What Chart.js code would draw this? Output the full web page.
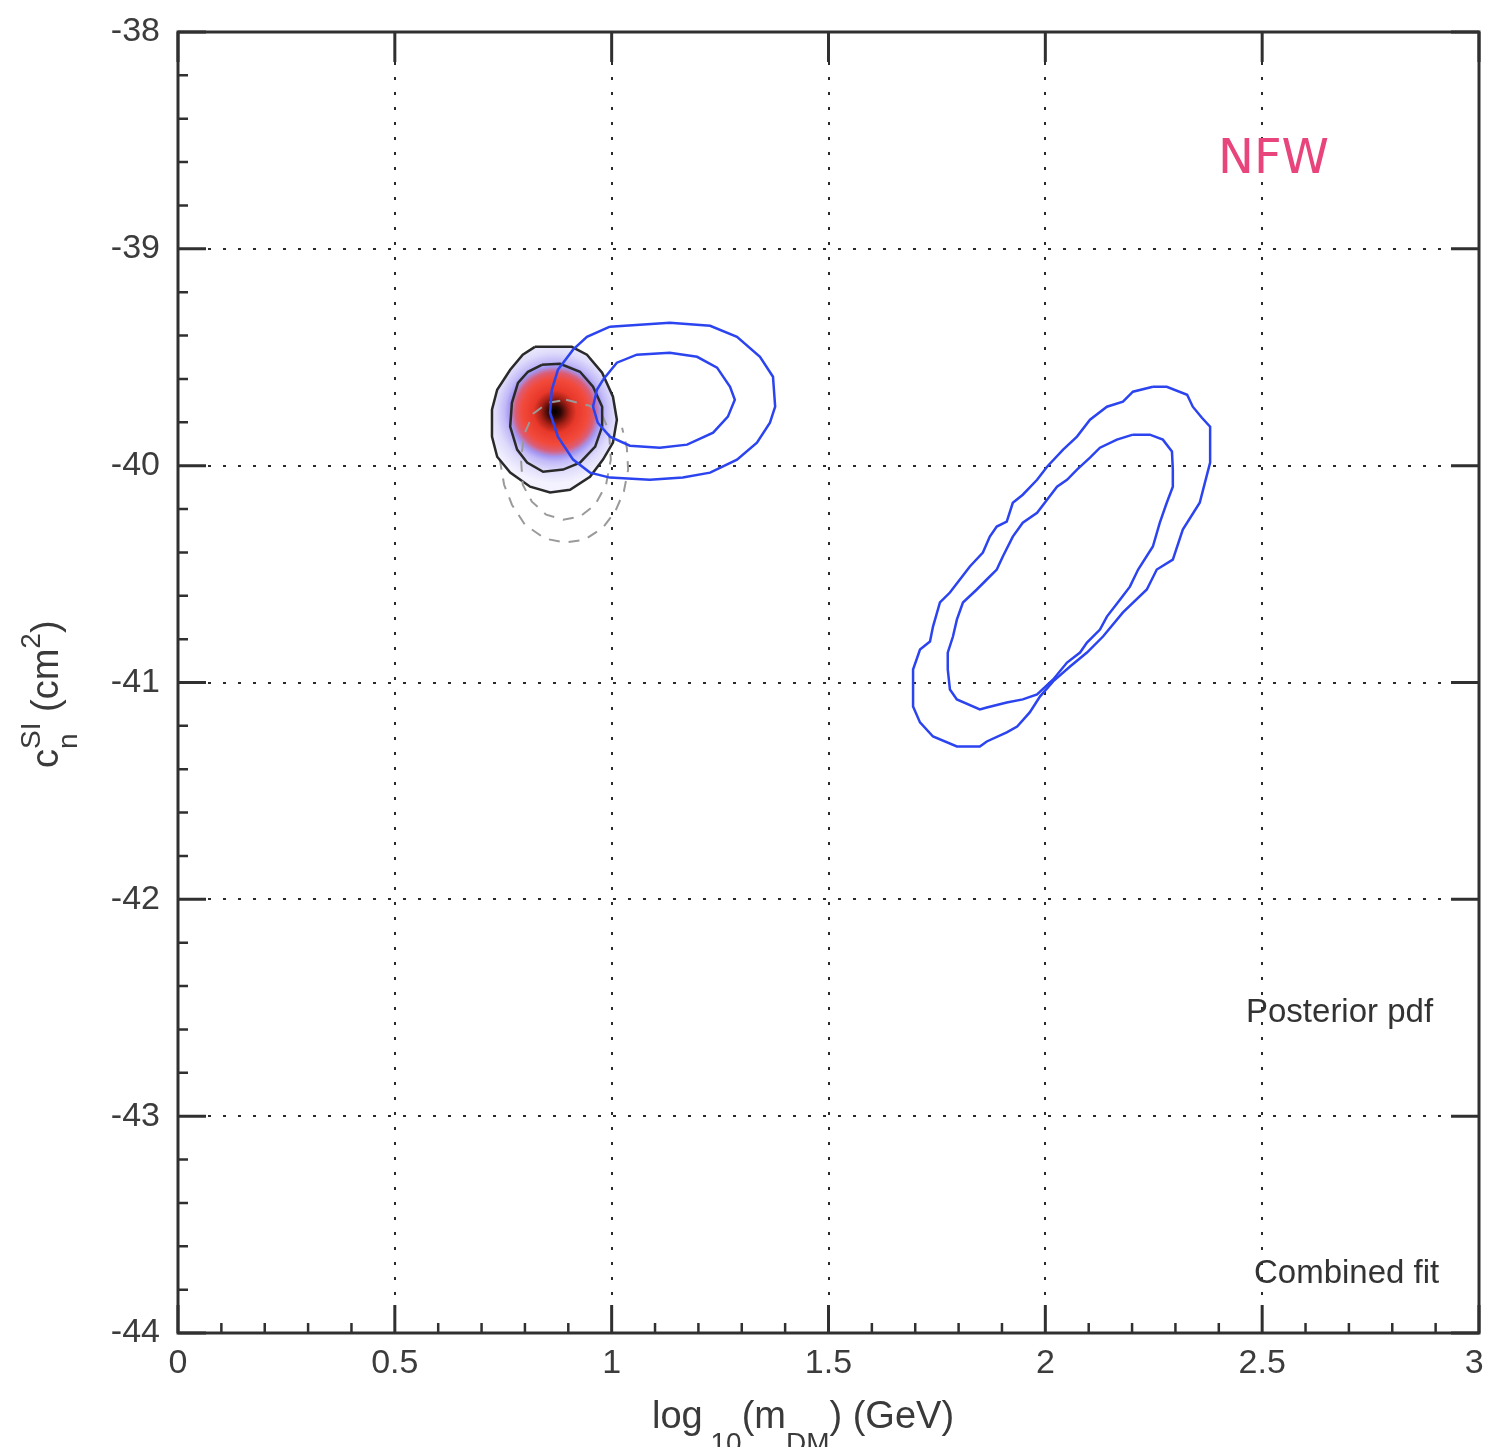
<!DOCTYPE html>
<html>
<head>
<meta charset="utf-8">
<script src="https://cdn.jsdelivr.net/npm/chart.js@4.4.1/dist/chart.umd.min.js"></script>
<style>
  html, body { margin: 0; padding: 0; background: #ffffff; }
  #wrap { width: 1485px; height: 1447px; position: relative; }
</style>
</head>
<body>
<div id="wrap"><canvas id="chart"></canvas></div>
<script>
// Axis ticks
const xTicks = [0, 0.5, 1, 1.5, 2, 2.5, 3];
const xTickLabels = ['0', '0.5', '1', '1.5', '2', '2.5', '3'];
const yTicks = [-44, -43, -42, -41, -40, -39, -38];
const yTickLabels = ['-44', '-43', '-42', '-41', '-40', '-39', '-38'];

// Posterior pdf peak (log10 mDM, sigma)
const posteriorPeak = [0.869, -39.751];

// Posterior pdf contours (black)
const posteriorOuter = [[0.823,-39.452],[0.908,-39.452],[0.943,-39.488],[0.978,-39.571],[1.003,-39.682],[1.012,-39.788],[1.003,-39.894],[0.980,-39.972],[0.950,-40.051],[0.904,-40.111],[0.858,-40.124],[0.812,-40.097],[0.766,-40.032],[0.736,-39.959],[0.724,-39.866],[0.724,-39.742],[0.736,-39.650],[0.766,-39.558],[0.795,-39.488]];
const posteriorInner = [[0.839,-39.535],[0.881,-39.530],[0.927,-39.567],[0.957,-39.636],[0.978,-39.728],[0.978,-39.820],[0.962,-39.912],[0.927,-39.986],[0.888,-40.018],[0.842,-40.028],[0.805,-39.986],[0.782,-39.926],[0.766,-39.820],[0.770,-39.710],[0.784,-39.618],[0.807,-39.567]];

// Profile likelihood contours (grey dashed)
const profileInner = [[0.895,-39.696],[0.950,-39.724],[0.978,-39.765],[0.994,-39.843],[0.998,-39.972],[0.987,-40.088],[0.962,-40.180],[0.927,-40.235],[0.888,-40.249],[0.849,-40.226],[0.816,-40.166],[0.795,-40.088],[0.791,-39.972],[0.798,-39.857],[0.819,-39.760],[0.853,-39.710]];
const profileOuter = [[0.761,-39.788],[0.749,-39.880],[0.742,-39.972],[0.752,-40.088],[0.770,-40.180],[0.800,-40.272],[0.846,-40.336],[0.892,-40.355],[0.938,-40.341],[0.980,-40.286],[1.008,-40.212],[1.028,-40.120],[1.038,-40.018],[1.035,-39.917],[1.024,-39.825]];

// Low-mass region contours (blue)
const lowMassOuter = [[0.996,-39.359],[1.134,-39.341],[1.227,-39.355],[1.289,-39.406],[1.342,-39.498],[1.372,-39.590],[1.377,-39.728],[1.365,-39.802],[1.335,-39.894],[1.289,-39.972],[1.227,-40.032],[1.164,-40.055],[1.088,-40.065],[0.996,-40.055],[0.950,-40.032],[0.911,-39.972],[0.876,-39.866],[0.858,-39.756],[0.862,-39.650],[0.876,-39.558],[0.911,-39.465],[0.943,-39.406]];
const lowMassInner = [[0.980,-39.604],[1.012,-39.525],[1.058,-39.488],[1.134,-39.479],[1.197,-39.498],[1.243,-39.548],[1.273,-39.636],[1.284,-39.696],[1.268,-39.774],[1.234,-39.848],[1.174,-39.903],[1.111,-39.917],[1.042,-39.908],[0.996,-39.866],[0.968,-39.802],[0.957,-39.728],[0.966,-39.650]];

// High-mass region contours (blue)
const highMassOuter = [[2.248,-39.636],[2.280,-39.636],[2.327,-39.673],[2.340,-39.728],[2.361,-39.779],[2.380,-39.820],[2.380,-39.986],[2.368,-40.078],[2.356,-40.171],[2.317,-40.295],[2.294,-40.433],[2.257,-40.479],[2.234,-40.571],[2.179,-40.677],[2.133,-40.788],[2.096,-40.862],[2.057,-40.926],[2.018,-40.995],[1.988,-41.064],[1.964,-41.138],[1.935,-41.203],[1.911,-41.230],[1.865,-41.272],[1.849,-41.295],[1.796,-41.295],[1.741,-41.249],[1.711,-41.184],[1.695,-41.111],[1.695,-40.940],[1.711,-40.848],[1.734,-40.811],[1.741,-40.742],[1.757,-40.631],[1.780,-40.585],[1.803,-40.525],[1.826,-40.465],[1.856,-40.401],[1.872,-40.327],[1.888,-40.281],[1.911,-40.258],[1.925,-40.171],[1.948,-40.134],[1.981,-40.065],[2.004,-40.005],[2.041,-39.926],[2.073,-39.866],[2.103,-39.788],[2.142,-39.728],[2.179,-39.705],[2.202,-39.659]];
const highMassInner = [[2.202,-39.857],[2.241,-39.857],[2.271,-39.880],[2.292,-39.935],[2.294,-40.018],[2.294,-40.097],[2.280,-40.171],[2.264,-40.263],[2.248,-40.373],[2.214,-40.479],[2.195,-40.558],[2.172,-40.618],[2.142,-40.696],[2.126,-40.756],[2.096,-40.816],[2.080,-40.862],[2.050,-40.908],[2.018,-40.986],[1.981,-41.055],[1.948,-41.078],[1.911,-41.092],[1.865,-41.115],[1.849,-41.124],[1.796,-41.078],[1.780,-41.032],[1.775,-40.940],[1.775,-40.862],[1.787,-40.788],[1.796,-40.710],[1.810,-40.631],[1.842,-40.571],[1.865,-40.525],[1.888,-40.479],[1.902,-40.419],[1.925,-40.327],[1.948,-40.263],[1.981,-40.217],[2.004,-40.157],[2.027,-40.097],[2.050,-40.065],[2.073,-40.018],[2.103,-39.963],[2.126,-39.917],[2.165,-39.880]];

const FONT = "'Liberation Sans', Arial, sans-serif";
const BLUE = '#2b44f0';

const toXY = arr => arr.map(([x, y]) => ({ x, y }));
const closed = arr => toXY(arr.concat([arr[0]]));

function contour(data, color, width, order, dash, extra) {
  return Object.assign({
    data, borderColor: color, borderWidth: width, borderDash: dash || [],
    showLine: true, pointRadius: 0, pointHoverRadius: 0, fill: false,
    tension: 0, order
  }, extra || {});
}

const datasets = [
  contour(toXY(profileOuter), '#9a9a9a', 2, 10, [11, 9]),
  contour(closed(posteriorOuter), '#2a2a2a', 2.5, 9, [], { shaded: true }),
  contour(closed(profileInner), '#9a9a9a', 2, 8, [11, 9]),
  contour(closed(posteriorInner), '#2a2a2a', 2.5, 7, []),
  contour(closed(lowMassOuter), BLUE, 2.5, 4, []),
  contour(closed(lowMassInner), BLUE, 2.5, 3, []),
  contour(closed(highMassOuter), BLUE, 2.5, 2, []),
  contour(closed(highMassInner), BLUE, 2.5, 1, [])
];

// Shaded posterior pdf under its outer contour
const posteriorShade = {
  id: 'posteriorShade',
  beforeDatasetDraw(chart, args) {
    const ds = chart.data.datasets[args.index];
    if (!ds.shaded) return;
    const { ctx, chartArea, scales } = chart;
    const pts = args.meta.data;
    const cx = scales.x.getPixelForValue(posteriorPeak[0]);
    const cy = scales.y.getPixelForValue(posteriorPeak[1]);
    const r = scales.x.getPixelForValue(posteriorPeak[0] + 0.165) - cx;
    const g = ctx.createRadialGradient(cx, cy, 0, cx, cy, r);
    g.addColorStop(0.00, '#000000');
    g.addColorStop(0.08, '#2a0604');
    g.addColorStop(0.20, '#a82016');
    g.addColorStop(0.30, '#e8382a');
    g.addColorStop(0.46, '#f24a3c');
    g.addColorStop(0.55, '#dc5c74');
    g.addColorStop(0.63, '#a396f2');
    g.addColorStop(0.70, '#c2baf8');
    g.addColorStop(0.82, '#dedafb');
    g.addColorStop(1.00, '#f3f2fe');
    ctx.save();
    ctx.beginPath();
    ctx.rect(chartArea.left, chartArea.top, chartArea.width, chartArea.height);
    ctx.clip();
    ctx.beginPath();
    pts.forEach((p, i) => (i ? ctx.lineTo(p.x, p.y) : ctx.moveTo(p.x, p.y)));
    ctx.closePath();
    ctx.fillStyle = g;
    ctx.fill();
    ctx.restore();
  }
};

function drawRich(ctx, segs, x, y, base, subDy, supDy) {
  let cx = x;
  for (const s of segs) {
    const size = s.k ? Math.round(base * 0.74) : base;
    ctx.font = size + 'px ' + FONT;
    const dy = s.k === 'sub' ? subDy : s.k === 'sup' ? supDy : 0;
    ctx.fillText(s.t, cx, y + dy);
    if (!s.stack) cx += ctx.measureText(s.t).width;
  }
}

// Frame, inward ticks, axis titles and annotations
const frameAndText = {
  id: 'frameAndText',
  afterDraw(chart) {
    const { ctx, chartArea: a, scales } = chart;
    const xs = scales.x, ys = scales.y;
    ctx.save();
    ctx.strokeStyle = '#303030';
    ctx.lineCap = 'butt';

    // major ticks on all four sides
    ctx.lineWidth = 3;
    ctx.beginPath();
    xTicks.forEach(v => {
      const px = xs.getPixelForValue(v);
      ctx.moveTo(px, a.bottom); ctx.lineTo(px, a.bottom - 28);
      ctx.moveTo(px, a.top); ctx.lineTo(px, a.top + 30);
    });
    yTicks.forEach(v => {
      const py = ys.getPixelForValue(v);
      ctx.moveTo(a.left, py); ctx.lineTo(a.left + 28, py);
      ctx.moveTo(a.right, py); ctx.lineTo(a.right - 28, py);
    });
    ctx.stroke();

    // minor ticks on bottom and left
    ctx.lineWidth = 2.5;
    ctx.beginPath();
    for (let i = 1; i < 30; i++) {
      if (i % 5 === 0) continue;
      const px = xs.getPixelForValue(i / 10);
      ctx.moveTo(px, a.bottom); ctx.lineTo(px, a.bottom - 10);
    }
    for (let i = 1; i < 30; i++) {
      if (i % 5 === 0) continue;
      const py = ys.getPixelForValue(-44 + i / 5);
      ctx.moveTo(a.left, py); ctx.lineTo(a.left + 10, py);
    }
    ctx.stroke();

    // frame
    ctx.lineWidth = 3;
    ctx.strokeRect(a.left, a.top, a.right - a.left, a.bottom - a.top);

    // x axis title
    ctx.fillStyle = '#3a3a3a';
    ctx.textAlign = 'left';
    ctx.textBaseline = 'alphabetic';
    drawRich(ctx, [
      { t: 'log' }, { t: ' 10', k: 'sub' }, { t: '(m' }, { t: 'DM', k: 'sub' }, { t: ') (GeV)' }
    ], 652, 1428, 38, 24, -17);

    // y axis title
    ctx.save();
    ctx.translate(58, 768);
    ctx.rotate(-Math.PI / 2);
    drawRich(ctx, [
      { t: 'c' }, { t: 'n', k: 'sub', stack: true }, { t: 'SI', k: 'sup' }, { t: ' (cm' }, { t: '2', k: 'sup' }, { t: ')' }
    ], 0, 0, 38, 19, -18);
    ctx.restore();

    // annotations
    ctx.font = '33px ' + FONT;
    ctx.fillStyle = '#333333';
    ctx.fillText('Posterior pdf', 1246, 1022);
    ctx.fillText('Combined fit', 1254, 1283);

    ctx.font = "48px 'DejaVu Sans', sans-serif";
    ctx.fillStyle = '#e8457c';
    ctx.fillText('NFW', 1218, 173);
    ctx.restore();
  }
};

new Chart(document.getElementById('chart'), {
  type: 'scatter',
  data: { datasets },
  options: {
    responsive: true,
    maintainAspectRatio: false,
    animation: false,
    events: [],
    layout: { padding: { top: 32, right: 6, left: 0, bottom: 0 } },
    plugins: { legend: { display: false }, tooltip: { enabled: false } },
    scales: {
      x: {
        type: 'linear', min: 0, max: 3,
        afterBuildTicks: s => { s.ticks = xTicks.map(v => ({ value: v })); },
        afterFit: s => { s.height = 114; s.paddingLeft = 0; s.paddingRight = 0; },
        ticks: {
          // the last label sits flush with the canvas edge
          callback: v => {
            const i = xTicks.indexOf(v);
            return i === xTicks.length - 1 ? xTickLabels[i] + ' ' : xTickLabels[i];
          },
          font: { family: FONT, size: 34 }, color: '#3c3c3c', padding: 10, maxRotation: 0
        },
        grid: { color: '#2a2a2a', lineWidth: 2, drawTicks: false },
        border: { display: false, dash: [3, 12] }
      },
      y: {
        type: 'linear', min: -44, max: -38,
        afterBuildTicks: s => { s.ticks = yTicks.map(v => ({ value: v })); },
        afterFit: s => { s.width = 178; s.paddingTop = 0; s.paddingBottom = 0; },
        ticks: {
          callback: v => yTickLabels[yTicks.indexOf(v)],
          font: { family: FONT, size: 34 }, color: '#3c3c3c', padding: 18
        },
        grid: { color: '#2a2a2a', lineWidth: 2, drawTicks: false },
        border: { display: false, dash: [3, 12] }
      }
    }
  },
  plugins: [posteriorShade, frameAndText]
});
</script>
</body>
</html>
